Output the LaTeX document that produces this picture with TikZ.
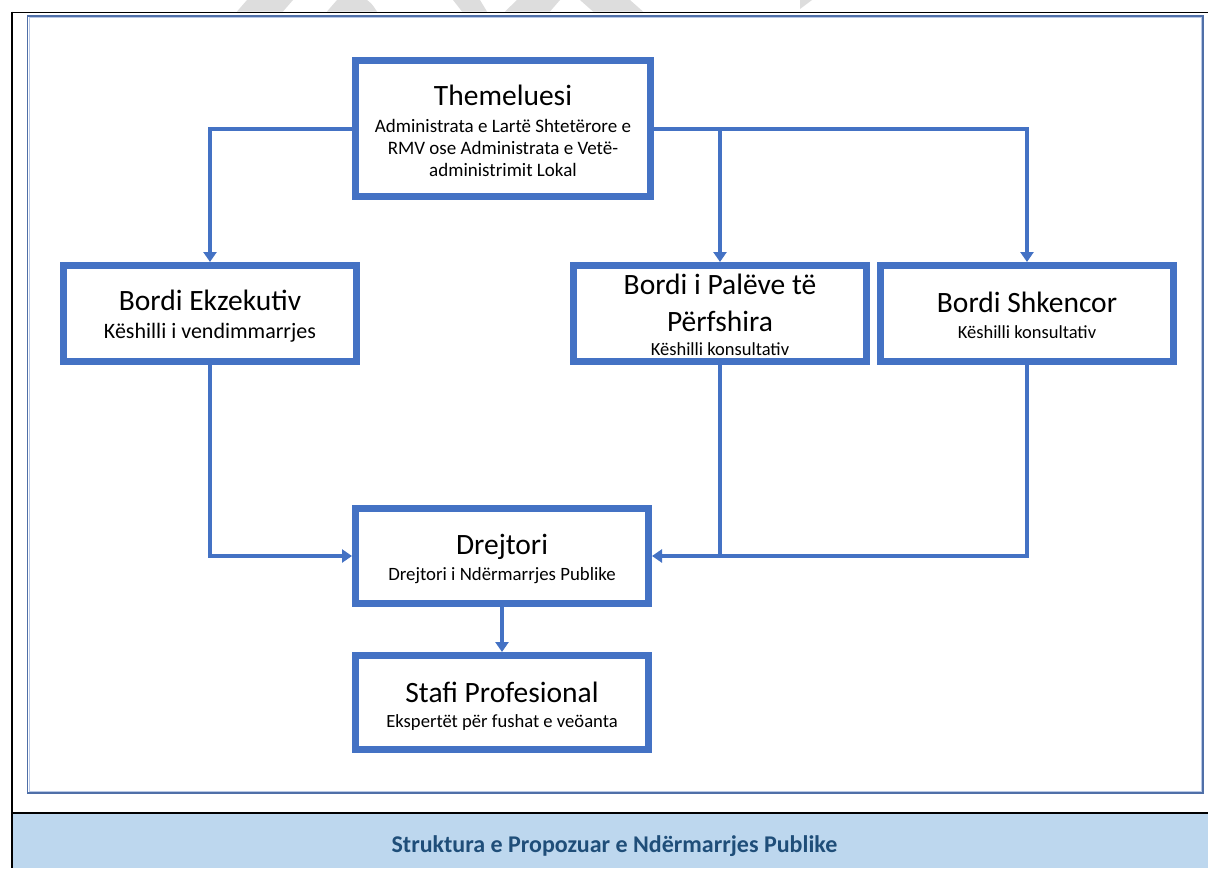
\documentclass[tikz,border=0pt]{standalone}
\usepackage{fontspec}
\setmainfont{Carlito}
\usetikzlibrary{arrows.meta}
\definecolor{boxblue}{HTML}{4472C4}
\definecolor{framedark}{HTML}{4F6FA8}
\definecolor{framelight}{HTML}{B8C8E6}
\definecolor{bandblue}{HTML}{BDD7EE}
\definecolor{captionblue}{HTML}{1F4E79}
\definecolor{wmgray}{HTML}{DDDDDD}
\newcommand{\fs}[1]{\fontsize{#1}{#1}\selectfont}
\begin{document}
\begin{tikzpicture}[x=1pt,y=-1pt,
  orgbox/.style={draw=boxblue,line width=7pt,fill=white,inner sep=0pt,minimum width=293pt,minimum height=95pt},
  conn/.style={draw=boxblue,line width=4pt,-{Triangle[length=10pt,width=13pt]}},
  plainconn/.style={draw=boxblue,line width=4pt},
  txt/.style={anchor=base,inner sep=0pt,text=black},
  ]
\useasboundingbox (0,0) rectangle (1208,868);
% watermark fragments
\fill[wmgray] (247,0) -- (293,0) -- (283,11.5) -- (237,11.5) -- cycle;
\fill[wmgray] (337,0) -- (367,0) .. controls (372,4) .. (377,11.5) -- (327,11.5) -- cycle;
\fill[wmgray] (453,0) -- (480,0) -- (487,11.5) -- (462,11.5) -- cycle;
\fill[wmgray] (517,0) -- (560,0) -- (550,11.5) -- (505,11.5) -- cycle;
\fill[wmgray] (580,0) -- (630,0) -- (643,11.5) -- (593,11.5) -- cycle;
\fill[wmgray] (800,0) -- (812,0) -- (800,9) -- cycle;
% black frame
\fill[bandblue] (12.5,813.5) rectangle (1208,868);
\draw[black,line width=1.8pt] (11,12.5) -- (1208,12.5);
\draw[black,line width=2pt] (11.7,11.6) -- (11.7,868);
\draw[black,line width=2pt] (11,812.5) -- (1208,812.5);
% inner frame
\draw[framedark,line width=1.6pt] (27.5,16) rectangle (1203,793);
\draw[framelight,line width=1.1pt] (29.3,17.8) rectangle (1201.2,791.2);
% boxes
\node[orgbox,minimum width=295pt,minimum height=136pt] (T) at (503,128.5) {};
\node[orgbox,minimum height=96pt] (E) at (210,313.5) {};
\node[orgbox,minimum height=96pt] (P) at (720,313.5) {};
\node[orgbox,minimum height=96pt] (S) at (1027,313.5) {};
\node[orgbox] (D) at (502,556) {};
\node[orgbox,minimum height=94pt] (St) at (502,702.5) {};
% connectors
\draw[conn] (T.west) -| (E.north);
\draw[conn] (T.east) -| (S.north);
\draw[conn] (P.north |- T.east) -- (P.north);
\draw[conn] (E.south) |- (D.west);
\draw[plainconn] (P.south) -- (P.south |- D.east);
\draw[conn] (S.south) |- (D.east);
\draw[conn] (D.south) -- (St.north);
% texts
\node[txt] (Tt) at (503,105) {\fs{29.5}Themeluesi};
\node[txt] (Ts1) at (503,132.7) {\fs{19}Administrata e Lartë Shtetërore e};
\node[txt] (Ts2) at (503,154.3) {\fs{19}RMV ose Administrata e Vetë-};
\node[txt] (Ts3) at (503,176) {\fs{19}administrimit Lokal};
\node[txt] (Et) at (210,310) {\fs{29.5}Bordi Ekzekutiv};
\node[txt] (Es) at (210,338) {\fs{22}Këshilli i vendimmarrjes};
\node[txt] (Pt1) at (720,294) {\fs{29.5}Bordi i Palëve të};
\node[txt] (Pt2) at (720,331) {\fs{29.5}Përfshira};
\node[txt] (Ps) at (720,355) {\fs{18.5}Këshilli konsultativ};
\node[txt] (St1) at (1027,312) {\fs{29.5}Bordi Shkencor};
\node[txt] (Ss) at (1027,338) {\fs{18.5}Këshilli konsultativ};
\node[txt] (Dt) at (502,554) {\fs{29.5}Drejtori};
\node[txt] (Ds) at (502,580) {\fs{18.8}Drejtori i Ndërmarrjes Publike};
\node[txt] (Stt) at (502,702) {\fs{29.5}Stafi Profesional};
\node[txt] (Sts) at (502,727) {\fs{18.6}Ekspertët për fushat e veöanta};
\node[txt,text=captionblue,font=\bfseries] (cap) at (614.5,852) {\fs{24}Struktura e Propozuar e Ndërmarrjes Publike};
\end{tikzpicture}
\end{document}
